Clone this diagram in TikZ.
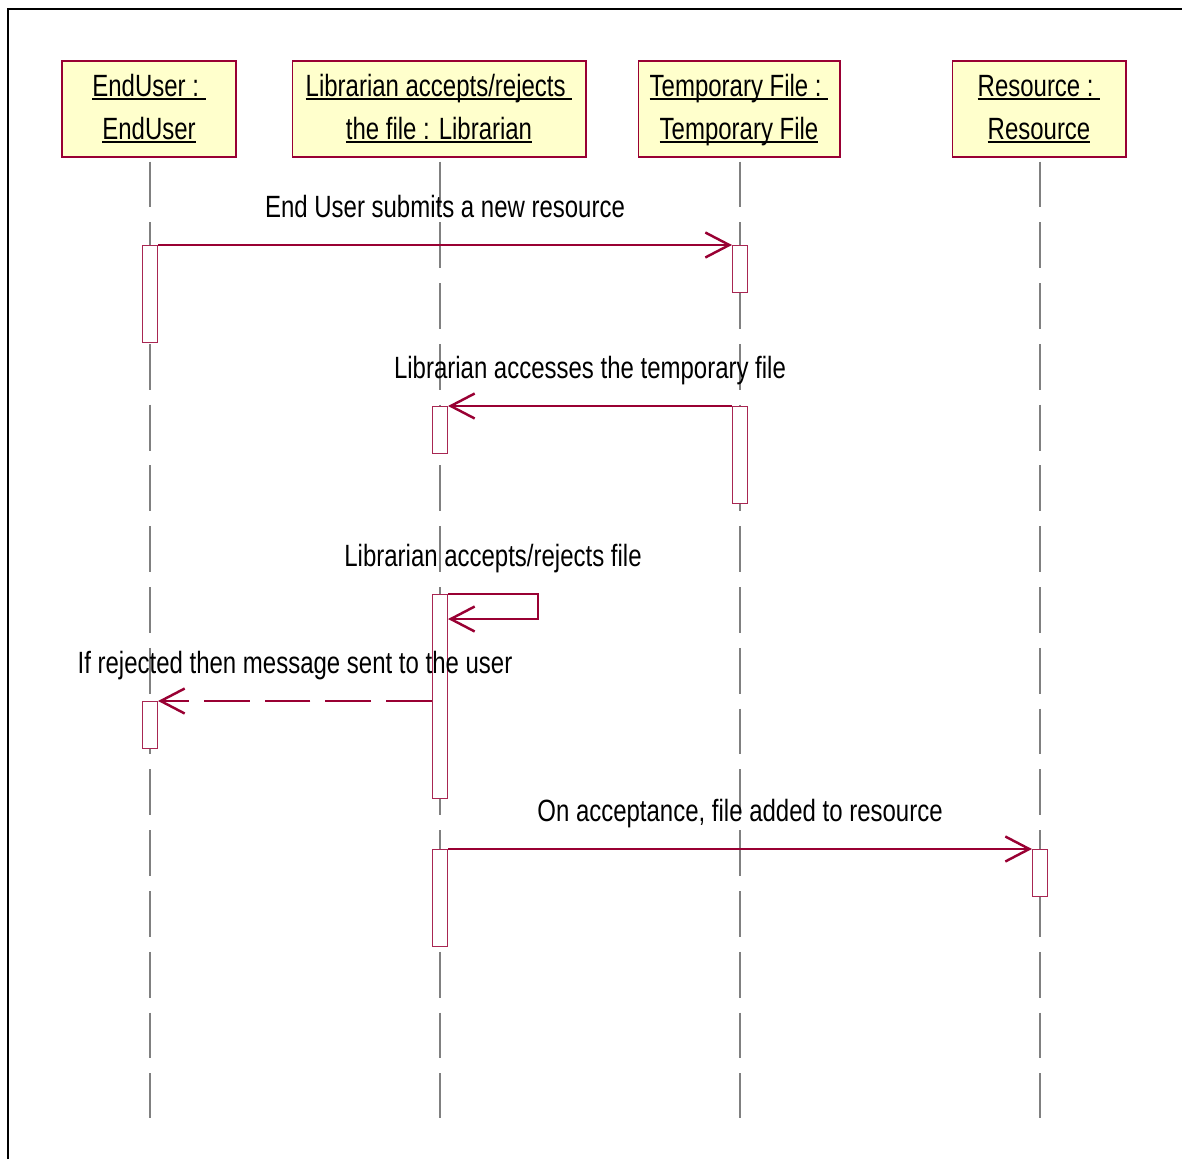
\documentclass[tikz,border=0pt]{standalone}
\usepackage{fontspec}
\setmainfont[FakeStretch=0.78]{Liberation Sans}
\usetikzlibrary{arrows.meta}
\definecolor{roseline}{HTML}{990033}
\definecolor{rosefill}{HTML}{FFFFCC}
% underlined object name, rule at a fixed depth
\newcommand{\objname}[1]{\setbox0=\hbox{\strut#1}\rlap{\rule[-2.2pt]{\wd0}{1.1pt}}\box0}

\begin{document}
\begin{tikzpicture}[x = 0.02cm, y = -0.02cm, % one unit is one pixel
                > = {Straight Barb[length = 4.8mm, width = 5mm, line width = 1.4pt]}, % open arrow head
                font = \fontsize{17.5}{24.4}\selectfont
            ]

            \tikzstyle{object} = [draw = roseline, fill = rosefill, line width = 0.6pt,
            minimum height = 1.92cm, align = center, inner sep = 0pt]
            \tikzstyle{lifeline} = [draw = gray, line width = 0.6pt,
            dash pattern = on 26.1pt off 8.5pt, shorten <= 0.08cm]
            \tikzstyle{act} = [draw = roseline!85, fill = white, line width = 0.6pt,
            minimum width = 0.3cm, inner sep = 0pt, anchor = north]
            \tikzstyle{msg} = [draw = roseline, line width = 0.7pt, ->]
            \tikzstyle{reply} = [msg, dash pattern = on 26.1pt off 8.5pt]
            \tikzstyle{lbl} = [midway, anchor = base, yshift = 0.56cm]

            \useasboundingbox (0,0) rectangle (1182,1159);
            \draw[line width = 1.2pt] (8,1159) -- (8,9) -- (1182,9);

            % objects
            \node[object, minimum width = 3.48cm] (user) at (149,109)
            {\objname{EndUser :\ }\\\objname{EndUser}};
            \node[object, minimum width = 5.88cm] (lib) at (439,109)
            {\objname{Librarian accepts/rejects\ }\\\objname{the file : Librarian}};
            \node[object, minimum width = 4.04cm] (temp) at (739,109)
            {\objname{Temporary File :\ }\\\objname{Temporary File}};
            \node[object, minimum width = 3.48cm] (res) at (1039,109)
            {\objname{Resource :\ }\\\objname{Resource}};

            \foreach \o/\x in {user/150, lib/440, temp/740, res/1040} {
                \coordinate (\o end) at (\x,1118);
                \draw[lifeline] (\o.south -| \o end) -- (\o end);
            }

            % activations
            \node[act, minimum height = 1.94cm] (user1) at (150,245) {};
            \node[act, minimum height = 0.94cm] (temp1) at (740,245) {};
            \node[act, minimum height = 1.94cm] (temp2) at (740,406) {};
            \node[act, minimum height = 0.94cm] (lib1) at (440,406) {};
            \node[act, minimum height = 4.08cm] (lib2) at (440,594) {};
            \node[act, minimum height = 0.94cm] (user2) at (150,701) {};
            \node[act, minimum height = 1.94cm] (lib3) at (440,849) {};
            \node[act, minimum height = 0.94cm] (res1) at (1040,849) {};

            % messages
            \draw[msg] (user1.north east) -- node[lbl] (m1)
            {End User submits a new resource} (temp1.north west);
            \draw[msg] (temp2.north west) -- node[lbl] (m2)
            {Librarian accesses the temporary file} (lib1.north east);
            \draw[msg] (lib2.north east) -- node[lbl] (m3)
            {Librarian accepts/rejects file} ++(90,0) -- ++(0,25) -- ++(-90,0);
            \draw[reply] (lib2.west |- user2.north) -- node[lbl] (m4)
            {If rejected then message sent to the user} (user2.north east);
            \draw[msg] (lib3.north east) -- node[lbl] (m5)
            {On acceptance, file added to resource} (res1.north west);
        \end{tikzpicture}
\end{document}
